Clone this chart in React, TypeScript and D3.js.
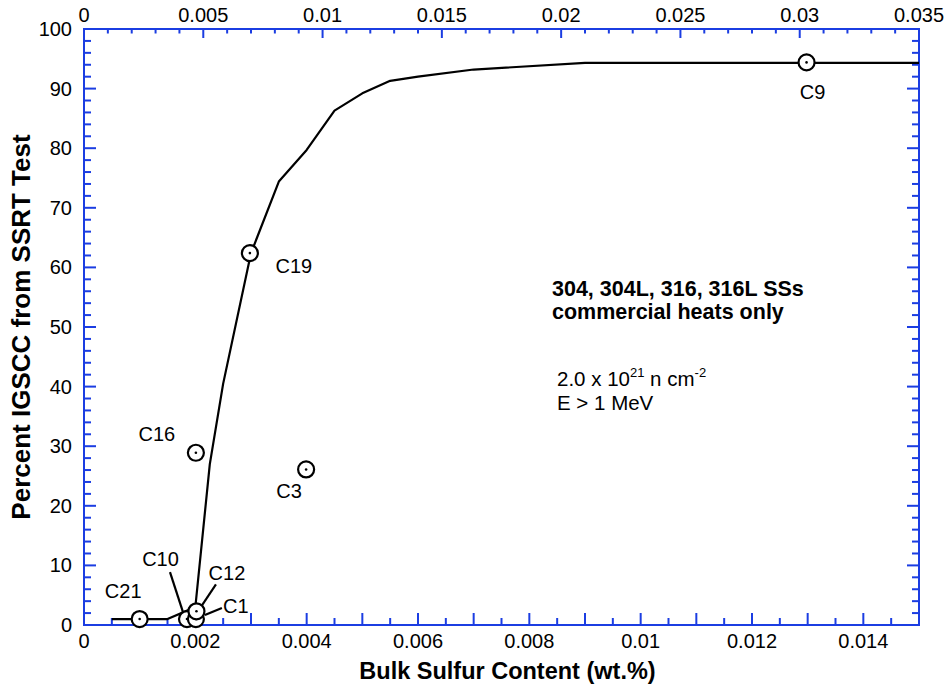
import React from "react";
import * as d3 from "d3";

// ---- data ----
const curveS = [0.0005, 0.0015, 0.002, 0.00226, 0.0025, 0.003, 0.0035, 0.004, 0.0045, 0.005, 0.0055, 0.006, 0.007, 0.009, 0.01, 0.015];
const curveP = [1, 1, 3, 27, 40.5, 62.4, 74.4, 79.7, 86.3, 89.2, 91.3, 92, 93.2, 94.3, 94.3, 94.3];

const heatNames = ["C21", "C10", "C1", "C12", "C16", "C19", "C3", "C9"];
const heatS = [0.001, 0.00185, 0.00201, 0.00202, 0.00201, 0.00298, 0.00399, 0.01298];
const heatP = [1, 1, 1, 2.3, 28.9, 62.4, 26.1, 94.4];

const bottomLabels = [0, 0.002, 0.004, 0.006, 0.008, 0.01, 0.012, 0.014];
const topLabels = [0, 0.005, 0.01, 0.015, 0.02, 0.025, 0.03, 0.035];
const leftLabels = [0, 10, 20, 30, 40, 50, 60, 70, 80, 90, 100];

// ---- layout (pixel offsets for labels relative to their point) ----
const labelLayout: Record<string, { dx: number; dy: number; lead?: [number, number, number, number] }> = {
  C21: { dx: -16.5, dy: -21 },
  C10: { dx: -26.5, dy: -53, lead: [-17, -47, -4, -7] },
  C1: { dx: 40, dy: -6, lead: [26, -11, 9, -4] },
  C12: { dx: 30.5, dy: -31, lead: [19.5, -27, 5.5, -6] },
  C16: { dx: -39, dy: -12 },
  C19: { dx: 44, dy: 20 },
  C3: { dx: -17, dy: 28.5 },
  C9: { dx: 6, dy: 36.5 },
};

const BLUE = "#1b3de2";
const FONT = "'Liberation Sans', Arial, Helvetica, sans-serif";

export default function App() {
  const W = 947, H = 690;
  const L = 84, R = 919, T = 29, B = 625;
  const x = d3.scaleLinear().domain([0, 0.015]).range([L, R]);
  const xTop = d3.scaleLinear().domain([0, 0.035]).range([L, R]);
  const y = d3.scaleLinear().domain([0, 100]).range([B, T]);

  const line = d3
    .line<number>()
    .x((_, i) => x(curveS[i]))
    .y((d) => y(d));

  const fmt = (v: number) => String(+v.toFixed(4));

  const bottomTicks = d3.range(0, 31).map((i) => ({ v: i * 0.0005, major: i % 2 === 0 }));
  const topTicks = d3.range(0, 36).map((i) => ({ v: i * 0.001, major: i % 5 === 0 }));
  const yTicks = d3.range(0, 51).map((i) => ({ v: i * 2, major: i % 5 === 0 }));

  const heats = heatNames.map((n, i) => ({ name: n, sx: x(heatS[i]), sy: y(heatP[i]) }));
  const drawOrder = ["C21", "C16", "C19", "C3", "C9", "C10", "C1", "C12"];

  return (
    <svg
      width={W}
      height={H}
      style={{ position: "absolute", left: 0, top: 0, background: "#fff" }}
      fontFamily={FONT}
    >
      <rect x={0} y={0} width={W} height={H} fill="#fff" />
      {/* ticks */}
      <g stroke={BLUE} strokeWidth={2}>
        {bottomTicks.map((t, i) => (
          <line key={"b" + i} x1={x(t.v)} x2={x(t.v)} y1={B} y2={B - (t.major ? 12 : 7)} />
        ))}
        {topTicks.map((t, i) => (
          <line key={"t" + i} x1={xTop(t.v)} x2={xTop(t.v)} y1={T} y2={T + (t.major ? 9 : 4.5)} />
        ))}
        {yTicks.map((t, i) => (
          <line key={"l" + i} x1={L} x2={L + (t.major ? 12 : 7)} y1={y(t.v)} y2={y(t.v)} />
        ))}
        {yTicks.map((t, i) => (
          <line key={"r" + i} x1={R} x2={R - (t.major ? 12 : 7)} y1={y(t.v)} y2={y(t.v)} />
        ))}
      </g>
      <rect x={L} y={T} width={R - L} height={B - T} fill="none" stroke={BLUE} strokeWidth={2} />

      {/* tick labels */}
      <g fontSize={20} fill="#000">
        {bottomLabels.map((v) => (
          <text key={"bl" + v} x={x(v)} y={648} textAnchor="middle">{fmt(v)}</text>
        ))}
        {topLabels.map((v) => (
          <text key={"tl" + v} x={xTop(v)} y={22} textAnchor="middle">{fmt(v)}</text>
        ))}
        {leftLabels.map((v) => (
          <text key={"ll" + v} x={72} y={y(v) + 7} textAnchor="end">{v}</text>
        ))}
      </g>

      {/* axis titles */}
      <text x={(L + R) / 2 + 6} y={679} textAnchor="middle" fontSize={23.5} fontWeight="bold">
        Bulk Sulfur Content (wt.%)
      </text>
      <text
        transform={`translate(30, ${(T + B) / 2}) rotate(-90)`}
        textAnchor="middle"
        fontSize={26}
        fontWeight="bold"
      >
        Percent IGSCC from SSRT Test
      </text>

      {/* curve */}
      <path d={line(curveP) || ""} fill="none" stroke="#000" strokeWidth={2.2} strokeLinejoin="round" />

      {/* leaders */}
      <g stroke="#000" strokeWidth={2.2}>
        {heats.map((h) => {
          const lay = labelLayout[h.name];
          if (!lay.lead) return null;
          const [a, b, c, d] = lay.lead;
          return <line key={"ld" + h.name} x1={h.sx + a} y1={h.sy + b} x2={h.sx + c} y2={h.sy + d} />;
        })}
      </g>

      {/* markers */}
      {drawOrder.map((n) => {
        const h = heats.find((q) => q.name === n)!;
        return (
          <g key={"m" + n}>
            <circle cx={h.sx} cy={h.sy} r={8} fill="#fff" stroke="#000" strokeWidth={2.2} />
            <circle cx={h.sx} cy={h.sy} r={1.3} fill="#000" />
          </g>
        );
      })}

      {/* labels */}
      <g fontSize={20} fill="#000">
        {heats.map((h) => {
          const lay = labelLayout[h.name];
          return (
            <text key={"tx" + h.name} x={h.sx + lay.dx} y={h.sy + lay.dy} textAnchor="middle">
              {h.name}
            </text>
          );
        })}
      </g>

      {/* annotation */}
      <text x={552} y={296} fontSize={21.5} fontWeight="bold">304, 304L, 316, 316L SSs</text>
      <text x={552} y={319} fontSize={21.5} fontWeight="bold">commercial heats only</text>
      <text x={557} y={386} fontSize={20.5}>
        2.0 x 10<tspan dy={-9} fontSize={13}>21</tspan>
        <tspan dy={9}> n cm</tspan>
        <tspan dy={-9} fontSize={13}>-2</tspan>
      </text>
      <text x={557} y={410} fontSize={20.5}>E &gt; 1 MeV</text>
    </svg>
  );
}
